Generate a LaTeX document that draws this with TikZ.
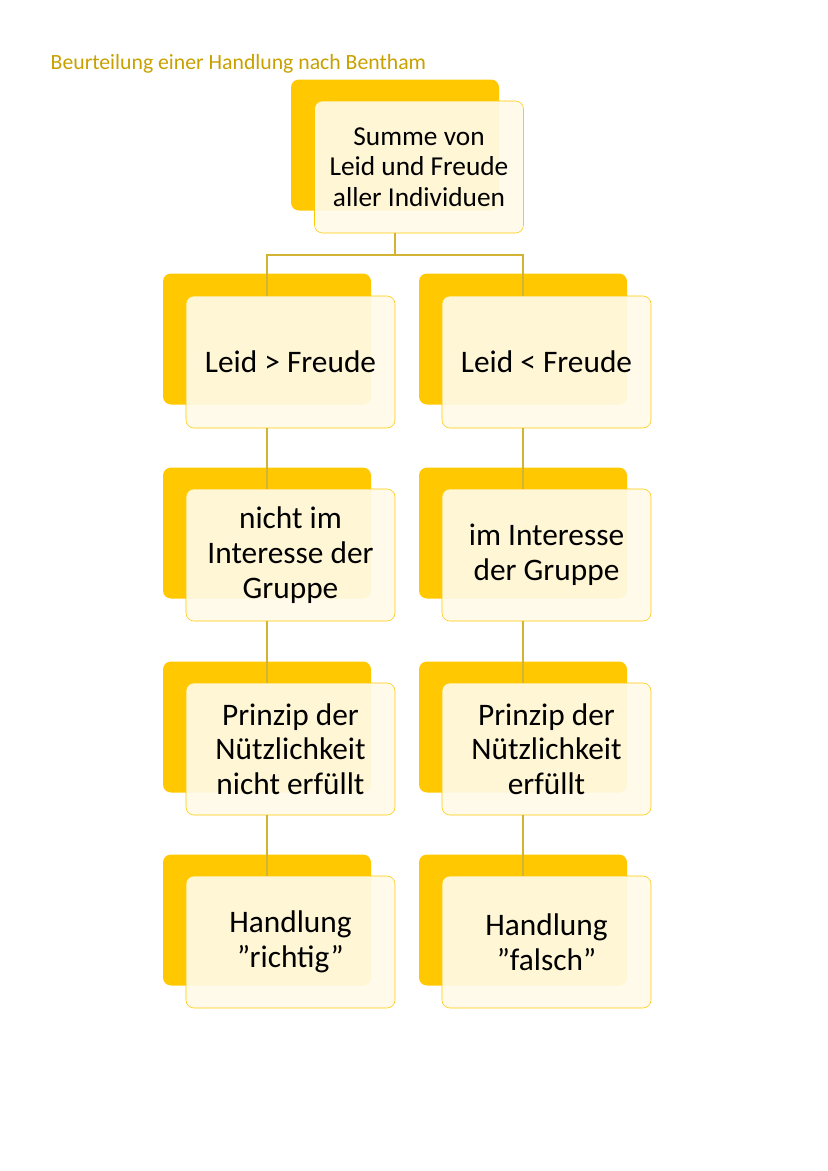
\documentclass[tikz,border=0pt]{standalone}
\usepackage{fontspec}
\setmainfont{Carlito}
\usetikzlibrary{positioning}
\definecolor{gold}{RGB}{255,200,0}
\definecolor{cream}{RGB}{255,250,232}
\definecolor{titlecol}{RGB}{200,160,0}
\newcommand{\qq}{\char34\relax}
\tikzset{
  backbox/.style={fill=gold,rounded corners=6pt,minimum width=208*0.75pt,minimum height=131*0.75pt},
  frontbox/.style={draw=gold,fill=cream,fill opacity=0.92,text opacity=1,rounded corners=6pt,
    minimum width=209*0.75pt,minimum height=132*0.75pt,align=center,font=\fontsize{23.5}{26}\selectfont},
  link/.style={draw=titlecol!80,line width=0.8pt}
}
\begin{document}
\begin{tikzpicture}[x=0.75pt,y=-0.75pt]
\useasboundingbox (0,0) rectangle (828,1171);
\node[anchor=west,text=titlecol,font=\fontsize{16.3}{18}\selectfont] (title) at (46,64) {Beurteilung einer Handlung nach Bentham};

% top box
\node[backbox] (sb) at (395,145) {};
\node[frontbox,font=\fontsize{20.5}{23}\selectfont] (s) at (419,167) {Summe von\\Leid und Freude\\aller Individuen};

% left column
\node[backbox] (l1b) at (267,339) {};
\node[frontbox] (l1) at (290.5,362) {Leid > Freude};
\node[backbox] (l2b) at (267,533) {};
\node[frontbox] (l2) at (290.5,555) {nicht im\\Interesse der\\Gruppe};
\node[backbox] (l3b) at (267,727) {};
\node[frontbox] (l3) at (290.5,749) {Prinzip der\\Nützlichkeit\\nicht erfüllt};
\node[backbox] (l4b) at (267,920) {};
\node[frontbox] (l4) at (290.5,942) {Handlung\\\qq richtig\qq};

% right column
\node[backbox] (r1b) at (523,339) {};
\node[frontbox] (r1) at (546.5,362) {Leid < Freude};
\node[backbox] (r2b) at (523,533) {};
\node[frontbox] (r2) at (546.5,555) {im Interesse\\der Gruppe};
\node[backbox] (r3b) at (523,727) {};
\node[frontbox] (r3) at (546.5,749) {Prinzip der\\Nützlichkeit\\erfüllt};
\node[backbox] (r4b) at (523,920) {};
\node[frontbox] (r4) at (546.5,942) {Handlung\\\qq falsch\qq};

% connectors
\coordinate (fork) at (395,255);
\draw[link] (s.south -| sb) -- (fork) -| (l1b.center |- l1.north);
\draw[link] (fork) -| (r1b.center |- r1.north);
\foreach \c in {l,r}{
  \draw[link] (\c1.south -| \c1b) -- (\c2.north -| \c2b);
  \draw[link] (\c2.south -| \c2b) -- (\c3.north -| \c3b);
  \draw[link] (\c3.south -| \c3b) -- (\c4.north -| \c4b);
}
\end{tikzpicture}
\end{document}
